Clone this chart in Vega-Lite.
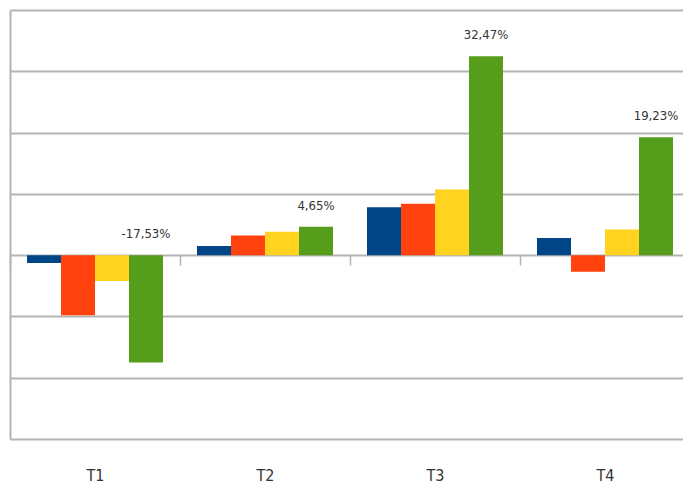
{
  "$schema": "https://vega.github.io/schema/vega-lite/v6.json",
  "width": 680,
  "height": 429,
  "autosize": {"type": "none"},
  "padding": {"left": 10, "top": 10, "right": 0, "bottom": 47},
  "background": "white",
  "config": {"view": {"stroke": null}},
  "data": {
    "values": [
      {"quarter": "T1", "series": "S1", "value": -1.3},
      {"quarter": "T1", "series": "S2", "value": -9.8},
      {"quarter": "T1", "series": "S3", "value": -4.2},
      {"quarter": "T1", "series": "S4", "value": -17.53, "label": "-17,53%"},
      {"quarter": "T2", "series": "S1", "value": 1.5},
      {"quarter": "T2", "series": "S2", "value": 3.2},
      {"quarter": "T2", "series": "S3", "value": 3.8},
      {"quarter": "T2", "series": "S4", "value": 4.65, "label": "4,65%"},
      {"quarter": "T3", "series": "S1", "value": 7.8},
      {"quarter": "T3", "series": "S2", "value": 8.4},
      {"quarter": "T3", "series": "S3", "value": 10.7},
      {"quarter": "T3", "series": "S4", "value": 32.47, "label": "32,47%"},
      {"quarter": "T4", "series": "S1", "value": 2.8},
      {"quarter": "T4", "series": "S2", "value": -2.7},
      {"quarter": "T4", "series": "S3", "value": 4.2},
      {"quarter": "T4", "series": "S4", "value": 19.23, "label": "19,23%"}
    ]
  },
  "layer": [
    {
      "mark": {"type": "bar"},
      "encoding": {
        "x": {
          "field": "quarter", "type": "nominal",
          "scale": {"paddingInner": 0, "paddingOuter": 0},
          "axis": {
            "title": null, "orient": "bottom", "offset": -184, "domain": false,
            "tickBand": "extent", "tickSize": 10, "tickColor": "#b3b3b3", "tickWidth": 1.5,
            "labelPadding": 215, "labelBaseline": "alphabetic", "labelAngle": 0,
            "labelFont": "Liberation Sans Narrow, DejaVu Sans Condensed, sans-serif",
            "labelFontSize": 16, "labelColor": "#333333", "grid": false
          }
        },
        "xOffset": {"field": "series", "scale": {"paddingInner": 0, "paddingOuter": 0.5}},
        "y": {
          "field": "value", "type": "quantitative",
          "scale": {"domain": [-30, 40], "nice": false},
          "axis": {
            "title": null, "values": [-30, -20, -10, 0, 10, 20, 30, 40],
            "labels": false, "ticks": false, "domain": true,
            "domainColor": "#b3b3b3", "domainWidth": 2,
            "grid": true, "gridColor": "#b3b3b3", "gridWidth": 2
          }
        },
        "color": {
          "field": "series",
          "scale": {"domain": ["S1", "S2", "S3", "S4"], "range": ["#004586", "#ff420e", "#ffd320", "#579d1c"]},
          "legend": null
        }
      }
    },
    {
      "transform": [
        {"filter": "datum.label != null"},
        {"calculate": "max(0, datum.value)", "as": "pos"}
      ],
      "mark": {
        "type": "text", "baseline": "middle", "dy": -21,
        "font": "Liberation Sans Narrow, DejaVu Sans Condensed, sans-serif",
        "fontSize": 13, "color": "#333333"
      },
      "encoding": {
        "x": {"field": "quarter", "type": "nominal"},
        "xOffset": {"field": "series"},
        "y": {"field": "pos", "type": "quantitative"},
        "text": {"field": "label"}
      }
    }
  ]
}
